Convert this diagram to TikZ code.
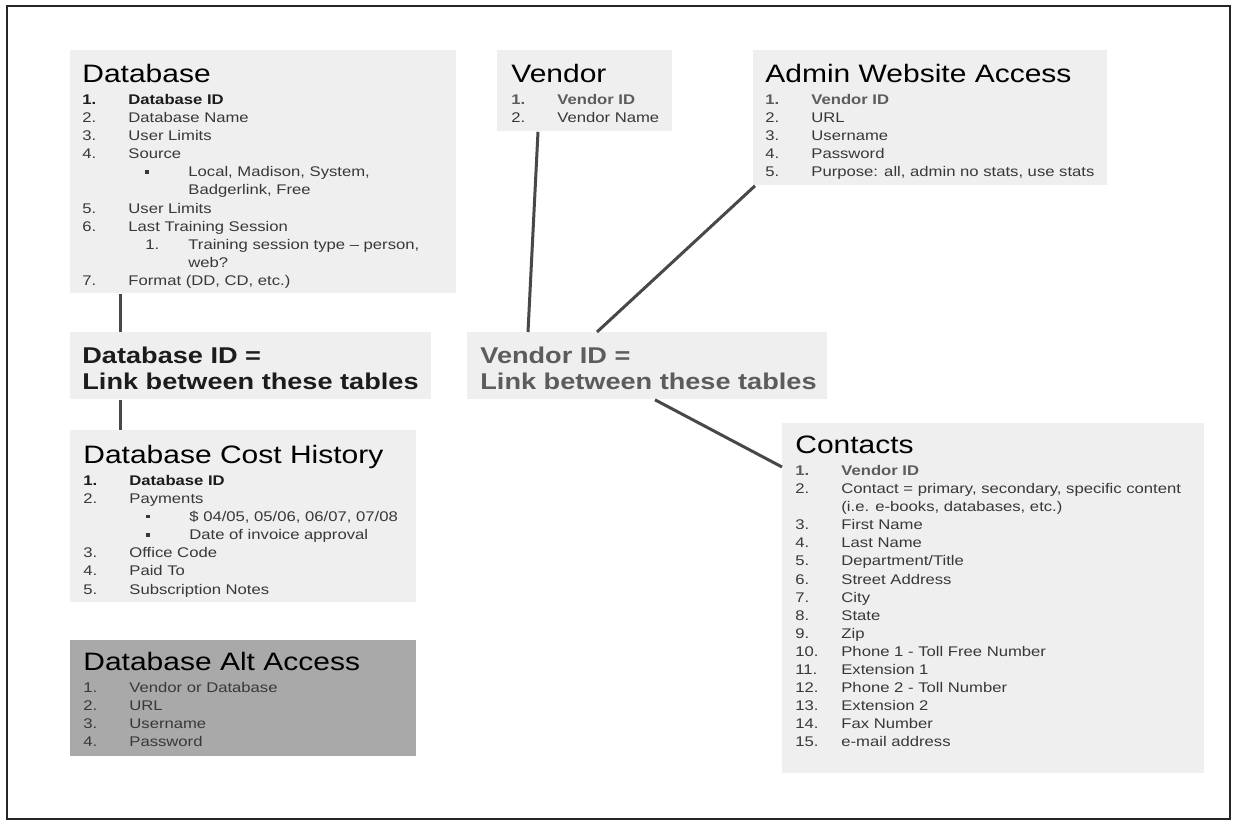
\documentclass[tikz,border=0pt]{standalone}
\usepackage{fontspec}
\setmainfont{Liberation Sans}[FakeStretch=1.19]

\definecolor{boxfill}{HTML}{EFEFEF}
\definecolor{altfill}{HTML}{A9A9A9}
\definecolor{fieldtext}{HTML}{383838}
\definecolor{keytext}{HTML}{1C1C1C}
\definecolor{vendorkey}{HTML}{5C5C5C}
\definecolor{linkline}{HTML}{484848}

% numbered field, nested field and the key field of a table
\newcommand{\fld}[2]{\makebox[23pt][l]{#1}#2}
\newcommand{\subfld}[2]{\hspace*{31.5pt}\makebox[21.5pt][l]{#1}#2}
\newcommand{\keyfld}[2]{{\color{#1}\bfseries\fld{1.}{#2}}}
\newcommand{\sqbullet}{\rule[1.6pt]{1.7pt}{1.7pt}}
\newcommand{\tbltitle}[1]{{\fontsize{12.6}{14}\selectfont\color{black}\rule{0pt}{10pt}#1}}

\tikzset{
    tbl/.style={fill=boxfill, inner sep=0pt, anchor=north west},
    fields/.style={anchor=north west, inner sep=0pt, align=left, text=fieldtext, font=\fontsize{7}{9.05}\selectfont},
    linktext/.style={anchor=north west, inner sep=0pt, align=left, font=\fontsize{11.4}{13.3}\selectfont\bfseries},
    relation/.style={draw=linkline, line width=1.5pt},
}

\begin{document}
\begin{tikzpicture}[x=0.5pt, y=-0.5pt]
            \useasboundingbox (0, 0) rectangle (1233, 823);
            \draw [line width=1pt, black!85] (7, 6) rectangle (1230, 819);

            % tables
            \node [tbl, minimum width=193pt, minimum height=121.5pt] (database) at (70, 50) {};
            \node [tbl, minimum width=87.5pt, minimum height=40.5pt] (vendor) at (497, 50) {};
            \node [tbl, minimum width=177pt, minimum height=67.5pt] (admin_access) at (753, 50) {};
            \node [tbl, minimum width=180.5pt, minimum height=33.5pt] (db_link) at (70, 332) {};
            \node [tbl, minimum width=180pt, minimum height=33.5pt] (vendor_link) at (467, 332) {};
            \node [tbl, minimum width=173pt, minimum height=86pt] (cost_history) at (70, 430) {};
            \node [tbl, fill=altfill, minimum width=173pt, minimum height=58pt] (alt_access) at (70, 640) {};
            \node [tbl, minimum width=211pt, minimum height=175pt] (contacts) at (782, 423) {};

            % fields
            \node [fields] (database_fields) at (82, 62) {\tbltitle{Database}\\[2pt]
                \keyfld{keytext}{Database ID}\\
                \fld{2.}{Database Name}\\
                \fld{3.}{User Limits}\\
                \fld{4.}{Source}\\
                \subfld{\sqbullet}{Local, Madison, System,}\\
                \hspace*{53pt}Badgerlink, Free\\
                \fld{5.}{User Limits}\\
                \fld{6.}{Last Training Session}\\
                \subfld{1.}{Training session type -- person,}\\
                \hspace*{53pt}web?\\
                \fld{7.}{Format (DD, CD, etc.)}};
            \node [fields] (vendor_fields) at (511, 62) {\tbltitle{Vendor}\\[2pt]
                \keyfld{vendorkey}{Vendor ID}\\
                \fld{2.}{Vendor Name}};
            \node [fields] (admin_fields) at (765, 62) {\tbltitle{Admin Website Access}\\[2pt]
                \keyfld{vendorkey}{Vendor ID}\\
                \fld{2.}{URL}\\
                \fld{3.}{Username}\\
                \fld{4.}{Password}\\
                \fld{5.}{Purpose: all, admin no stats, use stats}};
            \node [linktext, text=keytext] (db_link_text) at (82, 345) {\rule{0pt}{9pt}Database ID =\\
                Link between these tables};
            \node [linktext, text=vendorkey] (vendor_link_text) at (480, 345) {\rule{0pt}{9pt}Vendor ID =\\
                Link between these tables};
            \node [fields] (cost_fields) at (83, 443) {\tbltitle{Database Cost History}\\[2pt]
                \keyfld{keytext}{Database ID}\\
                \fld{2.}{Payments}\\
                \subfld{\sqbullet}{\$ 04/05, 05/06, 06/07, 07/08}\\
                \subfld{\sqbullet}{Date of invoice approval}\\
                \fld{3.}{Office Code}\\
                \fld{4.}{Paid To}\\
                \fld{5.}{Subscription Notes}};
            \node [fields] (alt_fields) at (83, 650) {\tbltitle{Database Alt Access}\\[2pt]
                \fld{1.}{Vendor or Database}\\
                \fld{2.}{URL}\\
                \fld{3.}{Username}\\
                \fld{4.}{Password}};
            \node [fields] (contact_fields) at (795, 433) {\tbltitle{Contacts}\\[2pt]
                \keyfld{vendorkey}{Vendor ID}\\
                \fld{2.}{Contact = primary, secondary, specific content}\\
                \hspace*{23pt}(i.e. e-books, databases, etc.)\\
                \fld{3.}{First Name}\\
                \fld{4.}{Last Name}\\
                \fld{5.}{Department/Title}\\
                \fld{6.}{Street Address}\\
                \fld{7.}{City}\\
                \fld{8.}{State}\\
                \fld{9.}{Zip}\\
                \fld{10.}{Phone 1 - Toll Free Number}\\
                \fld{11.}{Extension 1}\\
                \fld{12.}{Phone 2 - Toll Number}\\
                \fld{13.}{Extension 2}\\
                \fld{14.}{Fax Number}\\
                \fld{15.}{e-mail address}};

            % links between tables
            \draw [relation] ([xshift=25pt]database.south west) -- ([xshift=25pt]db_link.north west);
            \draw [relation] ([xshift=25pt]db_link.south west) -- ([xshift=25pt]cost_history.north west);
            \draw [relation] ([xshift=20.5pt]vendor.south west) -- ([xshift=30.5pt]vendor_link.north west);
            \draw [relation] ([xshift=1pt]admin_access.south west) -- ([xshift=65pt]vendor_link.north west);
            \draw [relation] ([xshift=94pt]vendor_link.south west) -- ([yshift=-22pt]contacts.north west);
        \end{tikzpicture}
\end{document}
